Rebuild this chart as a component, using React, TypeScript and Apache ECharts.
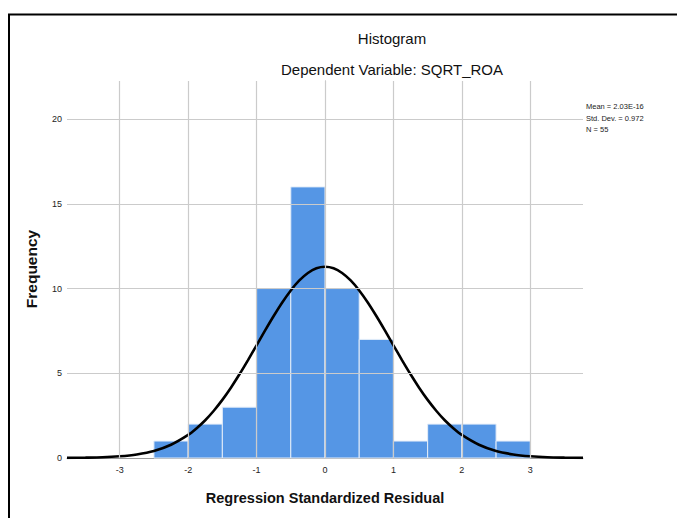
import React, { useEffect, useRef } from "react";
import * as echarts from "echarts";

// ---- data ----
const binStart = [-2.5, -2, -1.5, -1, -0.5, 0, 0.5, 1, 1.5, 2, 2.5];
const binWidth = 0.5;
const frequency = [1, 2, 3, 10, 16, 10, 7, 1, 2, 2, 1];

const xTicks = [-3, -2, -1, 0, 1, 2, 3];
const yTicks = [0, 5, 10, 15, 20];

// normal curve, values
const curveX = [
  -3.77, -3.5, -3.25, -3, -2.75, -2.5, -2.25, -2, -1.875, -1.75, -1.625, -1.5, -1.375, -1.25,
  -1.125, -1, -0.875, -0.75, -0.625, -0.5, -0.375, -0.25, -0.125, 0, 0.125, 0.25, 0.375, 0.5,
  0.625, 0.75, 0.875, 1, 1.125, 1.25, 1.375, 1.5, 1.625, 1.75, 1.875, 2, 2.25, 2.5, 2.75, 3,
  3.25, 3.5, 3.77,
];
const curveY = [
  0.01, 0.02, 0.04, 0.1, 0.21, 0.41, 0.78, 1.36, 1.76, 2.23, 2.79, 3.43, 4.15, 4.94, 5.78, 6.65,
  7.53, 8.38, 9.18, 9.89, 10.48, 10.92, 11.2, 11.29, 11.2, 10.92, 10.48, 9.89, 9.18, 8.38, 7.53,
  6.65, 5.78, 4.94, 4.15, 3.43, 2.79, 2.23, 1.76, 1.36, 0.78, 0.41, 0.21, 0.1, 0.04, 0.02, 0.01,
];

const statLines = ["Mean = 2.03E-16", "Std. Dev. = 0.972", "N = 55"];
const titleText = "Histogram";
const subtitleText = "Dependent Variable: SQRT_ROA";
const xTitle = "Regression Standardized Residual";
const yTitle = "Frequency";

const FONT = "Liberation Sans, Arial, sans-serif";

export default function App() {
  const ref = useRef<HTMLDivElement>(null);

  useEffect(() => {
    if (!ref.current) return;
    const chart = echarts.init(ref.current, null, { renderer: "svg" });

    const bars = binStart.map((s, i) => [s, s + binWidth, frequency[i]]);
    const curve = curveX.map((x, i) => [x, curveY[i]]);

    const gridColor = "#cbcbcb";

    const option: any = {
      animation: false,
      backgroundColor: "#ffffff",
      grid: { left: 67, top: 81, width: 516, height: 377 },
      xAxis: {
        type: "value",
        min: -3.77,
        max: 3.77,
        axisLine: { show: true, lineStyle: { color: "#9a9a9a", width: 1 } },
        axisTick: { show: false },
        splitLine: { show: false },
        axisLabel: {
          customValues: xTicks,
          color: "#222",
          fontSize: 9,
          fontFamily: FONT,
          margin: 7,
        },
      },
      yAxis: {
        type: "value",
        min: 0,
        max: 22.25,
        axisLine: { show: true, lineStyle: { color: "#9a9a9a", width: 1 } },
        axisTick: { show: false },
        splitLine: { show: false },
        axisLabel: {
          customValues: yTicks,
          color: "#222",
          fontSize: 9,
          fontFamily: FONT,
          margin: 5,
        },
      },
      graphic: [
        {
          type: "line",
          shape: { x1: 8, y1: 14.5, x2: 677, y2: 14.5 },
          style: { stroke: "#000", lineWidth: 2 },
          silent: true,
        },
        {
          type: "line",
          shape: { x1: 9, y1: 14, x2: 9, y2: 518 },
          style: { stroke: "#000", lineWidth: 2 },
          silent: true,
        },
        {
          type: "text",
          x: 392,
          y: 38,
          style: {
            text: titleText,
            font: `15px ${FONT}`,
            fill: "#111",
            textAlign: "center",
            textVerticalAlign: "middle",
          },
        },
        {
          type: "text",
          x: 392,
          y: 69,
          style: {
            text: subtitleText,
            font: `15px ${FONT}`,
            fill: "#111",
            textAlign: "center",
            textVerticalAlign: "middle",
          },
        },
        {
          type: "text",
          x: 325,
          y: 498,
          style: {
            text: xTitle,
            font: `bold 14.5px ${FONT}`,
            fill: "#111",
            textAlign: "center",
            textVerticalAlign: "middle",
          },
        },
        {
          type: "text",
          x: 31,
          y: 269,
          rotation: Math.PI / 2,
          style: {
            text: yTitle,
            font: `bold 15.5px ${FONT}`,
            fill: "#111",
            textAlign: "center",
            textVerticalAlign: "middle",
          },
        },
        {
          type: "text",
          x: 586,
          y: 101,
          style: {
            text: statLines.join("\n"),
            font: `7.5px ${FONT}`,
            lineHeight: 11.5,
            fill: "#222",
            textAlign: "left",
            textVerticalAlign: "top",
          },
        },
      ],
      series: [
        {
          type: "line",
          data: [],
          z: 1,
          silent: true,
          markLine: {
            silent: true,
            symbol: "none",
            label: { show: false },
            lineStyle: { color: gridColor, width: 1.2, type: "solid" },
            data: [
              ...xTicks.map((v) => ({ xAxis: v })),
              ...yTicks.filter((v) => v > 0).map((v) => ({ yAxis: v })),
            ],
          },
        },
        {
          type: "custom",
          z: 2,
          data: bars,
          encode: { x: [0, 1], y: 2 },
          renderItem: (params: any, api: any) => {
            const p0 = api.coord([api.value(0), api.value(2)]);
            const p1 = api.coord([api.value(1), 0]);
            return {
              type: "rect",
              shape: { x: p0[0], y: p0[1], width: p1[0] - p0[0], height: p1[1] - p0[1] },
              style: { fill: "#5596e5", stroke: "#e4edf9", lineWidth: 1 },
            };
          },
        },
        {
          type: "line",
          z: 3,
          data: curve,
          smooth: 0.3,
          symbol: "none",
          lineStyle: { color: "#000", width: 2.6 },
        },
      ],
    };

    chart.setOption(option);
    return () => chart.dispose();
  }, []);

  return (
    <div
      ref={ref}
      style={{ position: "absolute", left: 0, top: 0, width: 677, height: 518, background: "#fff" }}
    />
  );
}
